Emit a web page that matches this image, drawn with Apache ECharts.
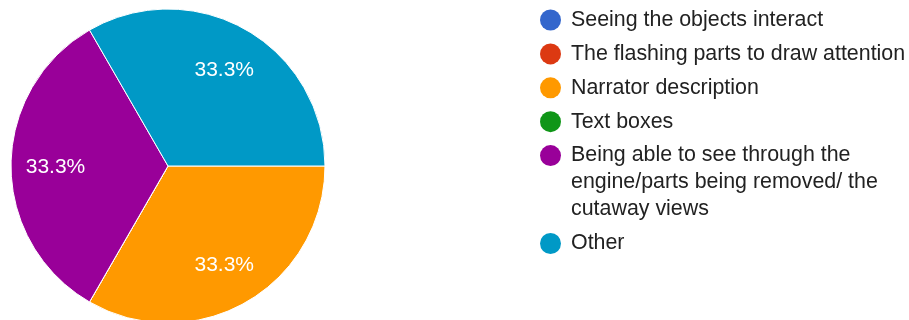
<!DOCTYPE html>
<html><head><meta charset="utf-8">
<script src="https://cdn.jsdelivr.net/npm/echarts@6/dist/echarts.min.js"></script>
<style>html,body{margin:0;padding:0;background:#fff}#c{width:909px;height:320px}</style>
</head><body><div id="c"></div>
<script>
const categories = [
  'Seeing the objects interact',
  'The flashing parts to draw attention',
  'Narrator description',
  'Text boxes',
  'Being able to see through the engine/parts being removed/ the cutaway views',
  'Other'
];
const counts = [0, 0, 1, 0, 1, 1];
const colors = ['#3366cc', '#dc3912', '#ff9900', '#109618', '#990099', '#0099c6'];

const FONT = "'Liberation Sans', Arial, sans-serif";
const FS = 21.4;
const LH = 27;
const measureCtx = document.createElement('canvas').getContext('2d');
measureCtx.font = FS + 'px ' + FONT;
function wrap(text, maxW) {
  const words = text.split(' ');
  const lines = [];
  let cur = '';
  words.forEach(w => {
    const t = cur ? cur + ' ' + w : w;
    if (cur && measureCtx.measureText(t).width > maxW) { lines.push(cur); cur = w; }
    else cur = t;
  });
  if (cur) lines.push(cur);
  return lines;
}

const rich = {
  g: { width: 10, lineHeight: LH },
  ind: { width: 31, lineHeight: LH }
};
colors.forEach((c, i) => {
  rich['d' + i] = { width: 21, height: 21, borderRadius: 10.5, backgroundColor: c, lineHeight: LH };
});

const pieData = categories.map((n, i) => ({ name: n, value: counts[i], itemStyle: { color: colors[i] } }));
const labelData = categories.map((n, i) => ({ name: n, value: counts[i] }));

const chart = echarts.init(document.getElementById('c'), null, { renderer: 'canvas' });
chart.setOption({
  animation: false,
  color: colors,
  legend: {
    orient: 'vertical',
    left: 535,
    top: 6.5,
    padding: 0,
    itemGap: 6.9,
    itemWidth: 0,
    itemHeight: 0,
    icon: 'none',
    selectedMode: false,
    data: categories,
    textStyle: { fontFamily: FONT, fontSize: FS, lineHeight: LH, color: '#222', rich: rich },
    formatter: function (name) {
      const i = categories.indexOf(name);
      const lines = wrap(name, 345);
      return lines.map((l, k) => (k === 0 ? '{d' + i + '|}{g|}' : '{ind|}') + l).join('\n');
    }
  },
  series: [
    {
      type: 'pie',
      center: [168, 166],
      radius: [0, 157],
      startAngle: 0,
      clockwise: true,
      silent: true,
      label: { show: false },
      labelLine: { show: false },
      itemStyle: { borderColor: '#fff', borderWidth: 1 },
      emphasis: { disabled: true },
      data: pieData
    },
    {
      type: 'pie',
      center: [168, 166],
      radius: [62, 157],
      startAngle: 0,
      clockwise: true,
      silent: true,
      itemStyle: { color: 'rgba(0,0,0,0)', borderWidth: 0 },
      label: {
        show: true,
        position: 'inside',
        color: '#fff',
        fontFamily: FONT,
        fontSize: 21,
        offset: [0, 1.5],
        formatter: p => p.value > 0 ? p.percent.toFixed(1) + '%' : ''
      },
      labelLine: { show: false },
      emphasis: { disabled: true },
      data: labelData
    }
  ]
});
</script></body></html>
